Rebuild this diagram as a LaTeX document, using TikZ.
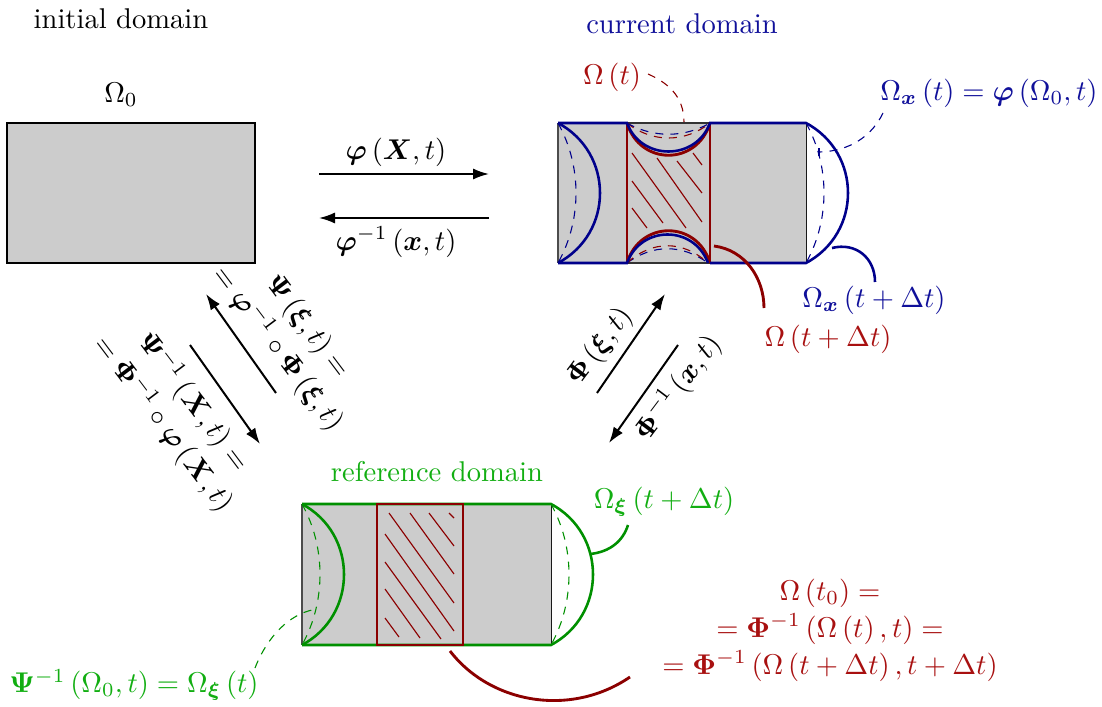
\documentclass[tikz,border=0pt]{standalone}
\usepackage{amsmath,bm}
\usetikzlibrary{arrows.meta}
\definecolor{lnblue}{HTML}{00008B}
\definecolor{lnred}{HTML}{8B0000}
\definecolor{lngreen}{HTML}{009000}
\definecolor{txblue}{HTML}{10109A}
\definecolor{txred}{HTML}{A81010}
\definecolor{txgreen}{HTML}{12AE12}
\tikzset{
 domainfill/.style={fill=black!20,draw=none},
 heavy/.style={line width=0.85pt},
 solidb/.style={lnblue,line width=0.9pt},
 solidr/.style={lnred,line width=1pt},
 solidg/.style={lngreen,line width=0.9pt},
 dashb/.style={lnblue,line width=0.38pt,dash pattern=on 2.8pt off 2.5pt},
 dashr/.style={lnred,line width=0.38pt,dash pattern=on 2.8pt off 2.5pt},
 dashg/.style={lngreen,line width=0.38pt,dash pattern=on 2.8pt off 2.5pt},
 hatch/.style={lnred,line width=0.4pt},
 maparrow/.style={-{Latex[length=5.6pt,width=3.9pt]},line width=0.7pt,black},
 lbl/.style={inner sep=0pt,align=center},
}
\begin{document}
\begin{tikzpicture}[x=0.35pt,y=-0.35pt]
\useasboundingbox (0,0) rectangle (1102,707);
% ---------- initial domain
\draw[domainfill,draw=black,heavy] (7,123) rectangle (255,263);
\node[lbl] (tinit) at (121,19) {initial domain};
\node[lbl] (om0) at (121,95) {$\Omega_0$};
% ---------- current domain
\fill[black!20] (558,123) rectangle (806,263);
\draw[black!70,line width=0.4pt] (558,123) -- (558,263);
\draw[black!90,line width=0.3pt] (806,123) -- (806,263);
\draw[black!80,line width=0.4pt] (627,123) -- (710,123) (627,263) -- (710,263);
\foreach \a/\b/\c/\d in {632/153/686/228,657/158/702/222,677/161/702/193,693/153/702/165,632/181/663/223,632/208/647/228}
  \draw[hatch] (\a,\b) -- (\c,\d);
% dashed
\draw[dashb] (558,123) .. controls +(24,43) and +(24,-43) .. (558,263);
\draw[dashb] (806,123) .. controls +(24,43) and +(24,-43) .. (806,263);
\draw[dashr] (627,123) .. controls +(25,20) and +(-25,20) .. (710,123);
\draw[dashb] (627,123) .. controls +(26,15) and +(-26,15) .. (710,123);
\draw[dashb] (627,263) .. controls +(26,-19) and +(-26,-19) .. (708,263);
\draw[dashr] (627,263) .. controls +(25,-23) and +(-25,-23) .. (708,263);
% red
\draw[solidr] (627,123) .. controls +(13,43) and +(-13,43) .. (710,123);
\draw[solidr] (627,263) .. controls +(13,-43) and +(-13,-43) .. (710,263);
\draw[solidr] (627,123) -- (627,263) (710,123) -- (710,263);
% blue
\draw[solidb] (558,123) -- (627,123) .. controls +(14,38) and +(-14,38) .. (710,123) -- (806,123)
  .. controls +(56,30) and +(56,-30) .. (806,263) -- (710,263);
\draw[solidb] (708,263) .. controls +(-14,-38) and +(14,-38) .. (627,263) -- (558,263);
\draw[solidb] (558,123) .. controls +(56,30) and +(56,-30) .. (558,263);
% callouts
\coordinate (ctA) at (648,74); \coordinate (ctB) at (684,122);
\draw[dashr] (ctA) .. controls (666,82) and (684,95) .. (ctB);
\coordinate (cxA) at (883,113); \coordinate (cxB) at (820,152);
\draw[dashb] (cxA) .. controls (872,136) and (850,151) .. (cxB);
\draw[lnblue,line width=0.38pt] (819,148) -- (819,156);
\coordinate (cdA) at (832,248); \coordinate (cdB) at (875,282);
\draw[solidb] (cdA) .. controls (856,242) and (875,258) .. (cdB);
\coordinate (crA) at (714,246); \coordinate (crB) at (764,308);
\draw[solidr] (crA) .. controls (745,250) and (764,278) .. (crB);
\node[lbl,txblue] (tcur) at (682,24) {current domain};
\node[lbl,txred] (lomt) at (612,77) {$\Omega\left(t\right)$};
\node[lbl,txblue] (lomx) at (989,93) {$\Omega_{\bm{x}}\left(t\right)=\bm{\varphi}\left(\Omega_0,t\right)$};
\node[lbl,txblue] (lomxd) at (874,300) {$\Omega_{\bm{x}}\left(t+\Delta t\right)$};
\node[lbl,txred] (lomd) at (828,339) {$\Omega\left(t+\Delta t\right)$};
% ---------- reference domain
\fill[black!20] (302,504) rectangle (551,645);
\draw[black!70,line width=0.6pt] (302,504) -- (302,645);
\draw[black!90,line width=0.3pt] (551,504) -- (551,645);
\foreach \a/\b/\c/\d in {389/513/454/603,410/513/454/574,429/513/454/546,449/513/454/518,385/534/454/631,385/562/441/639,385/589/420/638,385/618/399/637}
  \draw[hatch] (\a,\b) -- (\c,\d);
\draw[dashg] (302,504) .. controls +(24,43) and +(24,-43) .. (302,645);
\draw[dashg] (551,504) .. controls +(24,43) and +(24,-43) .. (551,645);
\draw[solidg] (302,504) .. controls +(56,30) and +(56,-30) .. (302,645);
\draw[solidg] (302,504) -- (551,504) .. controls +(56,30) and +(56,-30) .. (551,645) -- (302,645);
\draw[solidr] (377,504) rectangle (463,645);
\coordinate (rgA) at (590,554); \coordinate (rgB) at (628,525);
\draw[solidg] (rgA) .. controls (610,552) and (623,541) .. (rgB);
\coordinate (rrA) at (450,651); \coordinate (rrB) at (630,677);
\draw[solidr] (rrA) .. controls (490,703) and (570,718) .. (rrB);
\coordinate (rdA) at (255,668); \coordinate (rdB) at (312,610);
\draw[dashg] (rdA) .. controls (268,635) and (290,615) .. (rdB);
\node[lbl,txgreen] (tref) at (437,472) {reference domain};
\node[lbl,txgreen] (lomxi) at (664,502) {$\Omega_{\bm{\xi}}\left(t+\Delta t\right)$};
\node[lbl,txgreen] (lpsi) at (134,685) {$\bm{\Psi}^{-1}\left(\Omega_0,t\right)=\Omega_{\bm{\xi}}\left(t\right)$};
\node[lbl,txred] (lom0) at (830,630) {$\Omega\left(t_0\right)=$\\[1pt]$=\bm{\Phi}^{-1}\left(\Omega\left(t\right),t\right)=$\\[1pt]$=\bm{\Phi}^{-1}\left(\Omega\left(t+\Delta t\right),t+\Delta t\right)$};
% ---------- maps
\coordinate (a1s) at (319,174); \coordinate (a1e) at (489,174);
\draw[maparrow] (a1s) -- (a1e);
\coordinate (a2s) at (489,218); \coordinate (a2e) at (319,218);
\draw[maparrow] (a2s) -- (a2e);
\coordinate (a3s) at (276,393); \coordinate (a3e) at (206,294);
\draw[maparrow] (a3s) -- (a3e);
\coordinate (a4s) at (190,345); \coordinate (a4e) at (260,444);
\draw[maparrow] (a4s) -- (a4e);
\coordinate (a5s) at (597,393); \coordinate (a5e) at (665,294);
\draw[maparrow] (a5s) -- (a5e);
\coordinate (a6s) at (678,345); \coordinate (a6e) at (609,443);
\draw[maparrow] (a6s) -- (a6e);
\node[lbl] (mphi) at (396,152) {$\bm{\varphi}\left(\bm{X},t\right)$};
\node[lbl] (mphii) at (396,242) {$\bm{\varphi}^{-1}\left(\bm{x},t\right)$};
\node[lbl,rotate=53] (mPhi) at (600,347) {$\bm{\Phi}\left(\bm{\xi},t\right)$};
\node[lbl,rotate=53] (mPhii) at (678,388) {$\bm{\Phi}^{-1}\left(\bm{x},t\right)$};
\node[lbl,rotate=-53] (mPsi) at (292,338) {$\bm{\Psi}\left(\bm{\xi},t\right)=$\\[1pt]$=\bm{\varphi}^{-1}\circ\bm{\Phi}\left(\bm{\xi},t\right)$};
\node[lbl,rotate=-53] (mPsii) at (178,413) {$\bm{\Psi}^{-1}\left(\bm{X},t\right)=$\\[1pt]$=\bm{\Phi}^{-1}\circ\bm{\varphi}\left(\bm{X},t\right)$};
\end{tikzpicture}
\end{document}
